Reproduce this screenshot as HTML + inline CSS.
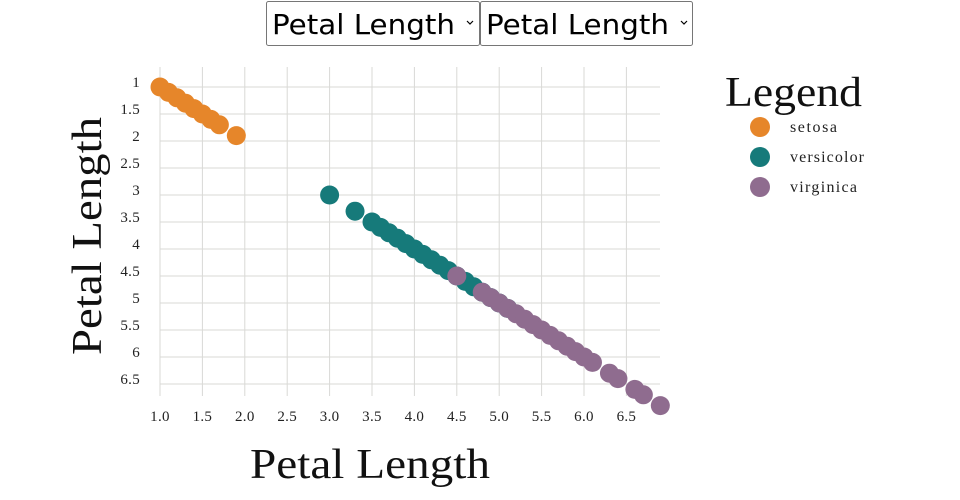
<!DOCTYPE html>
<html><head><meta charset="utf-8"><style>
body{margin:0;width:960px;height:500px;background:#fff;overflow:hidden;position:relative}
</style></head><body>
<svg width="960" height="500" style="position:absolute;left:0;top:0" font-family="Liberation Serif, DejaVu Serif, serif">
<rect x="266.5" y="1.5" width="213" height="44" fill="#fff" stroke="#767676" rx="2"/>
<rect x="480.5" y="1.5" width="212" height="44" fill="#fff" stroke="#767676" rx="2"/>
<text x="272" y="34" font-family="DejaVu Sans, Liberation Sans, sans-serif" font-size="28" textLength="183" lengthAdjust="spacingAndGlyphs" fill="#000">Petal Length</text>
<text x="486" y="34" font-family="DejaVu Sans, Liberation Sans, sans-serif" font-size="28" textLength="183" lengthAdjust="spacingAndGlyphs" fill="#000">Petal Length</text>
<path d="M467 21 l3 3 l3 -3 M681 21 l3 3 l3 -3" stroke="#000" fill="none" stroke-width="1.2"/>
<g id="grid" stroke="#d9d9d6" stroke-width="1"></g>
<g id="xl" font-size="15" text-anchor="middle" fill="#222" letter-spacing="0.3"></g>
<g id="yl" font-size="15" text-anchor="end" fill="#222" letter-spacing="0.3"></g>
<g id="pts"></g>
<text x="250" y="478" font-size="42" textLength="240" lengthAdjust="spacingAndGlyphs" fill="#111">Petal Length</text>
<text transform="translate(101,355) rotate(-90)" font-size="42" textLength="238" lengthAdjust="spacingAndGlyphs" fill="#111">Petal Length</text>
<text x="725" y="106" font-size="42" textLength="137" lengthAdjust="spacingAndGlyphs" fill="#111">Legend</text>
<circle cx="760" cy="127" r="10" fill="#e6862a"/><text x="790" y="132" font-size="16" textLength="47" fill="#222">setosa</text>
<circle cx="760" cy="157" r="10" fill="#167a7a"/><text x="790" y="162" font-size="16" textLength="74" fill="#222">versicolor</text>
<circle cx="760" cy="187" r="10" fill="#8f6c8f"/><text x="790" y="192" font-size="16" textLength="67" fill="#222">virginica</text>
</svg>
<script>
var ns="http://www.w3.org/2000/svg";
function X(v){return 160+(v-1)*84.8}function Y(v){return 87+(v-1)*54}
function el(p,t,a,txt){var e=document.createElementNS(ns,t);for(var k in a)e.setAttribute(k,a[k]);if(txt)e.textContent=txt;document.getElementById(p).appendChild(e);}
for(var i=0;i<12;i++){var v=1+i*0.5;el('grid','line',{x1:X(v),x2:X(v),y1:67,y2:396});el('xl','text',{x:X(v),y:421},v.toFixed(1));}
for(var i=0;i<12;i++){var v=1+i*0.5;el('grid','line',{x1:160,x2:660,y1:Y(v),y2:Y(v)});el('yl','text',{x:140,y:Y(v)},String(v));}
var d=[["#e6862a",[1.0,1.1,1.2,1.3,1.4,1.5,1.6,1.7,1.9]],["#167a7a",[3.0,3.3,3.5,3.6,3.7,3.8,3.9,4.0,4.1,4.2,4.3,4.4,4.5,4.6,4.7,4.8,4.9,5.0,5.1]],["#8f6c8f",[4.5,4.8,4.9,5.0,5.1,5.2,5.3,5.4,5.5,5.6,5.7,5.8,5.9,6.0,6.1,6.3,6.4,6.6,6.7,6.9]]];
d.forEach(function(s){s[1].forEach(function(v){el('pts','circle',{cx:X(v),cy:Y(v),r:9.5,fill:s[0]});});});
</script>
</body></html>
